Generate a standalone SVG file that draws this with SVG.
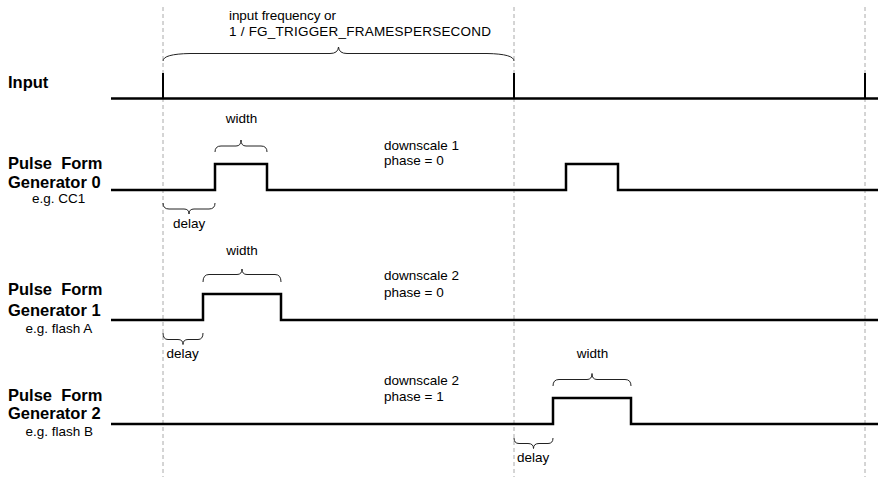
<svg xmlns="http://www.w3.org/2000/svg" width="886" height="489" viewBox="0 0 886 489">
<style>
.bg{fill:#fff}
.guide{stroke:#aaa;stroke-width:1;stroke-dasharray:4 3;fill:none}
.sig{stroke:#000;stroke-width:2.5;fill:none;stroke-linejoin:miter}
.spike{stroke:#000;stroke-width:2;fill:none}
.brace{stroke:#222;stroke-width:1;fill:none}
.lbl{font-family:"Liberation Sans",Arial,sans-serif;font-weight:bold;font-size:16.5px;fill:#000}
.txt{font-family:"Liberation Sans",Arial,sans-serif;font-size:13.5px;fill:#000}
</style>
<rect class="bg" x="0" y="0" width="886" height="489"/>
<g id="connectors">
<line class="guide" x1="163" y1="7" x2="163" y2="477"/>
<line class="guide" x1="514" y1="7" x2="514" y2="477"/>
<line class="guide" x1="865" y1="7" x2="865" y2="477"/>
</g>
<g id="input">
<text class="lbl" x="8" y="88">Input</text>
<line class="sig" x1="111" y1="98.5" x2="878" y2="98.5"/>
<line class="spike" x1="163" y1="73" x2="163" y2="98"/>
<line class="spike" x1="514" y1="73" x2="514" y2="98"/>
<line class="spike" x1="865" y1="73" x2="865" y2="98"/>
<path class="brace" d="M163,61 Q163,54 190,53.5 L330,53.5 Q338,53.5 338.5,47 Q339,53.5 347,53.5 L487,53.5 Q514,54 514,61"/>
<text class="txt" x="229" y="20" textLength="107">input frequency or</text>
<text class="txt" x="229" y="36" textLength="262">1 / FG_TRIGGER_FRAMESPERSECOND</text>
</g>
<g id="pfg0">
<text class="lbl" x="8" y="169" xml:space="preserve">Pulse  Form</text>
<text class="lbl" x="8" y="188">Generator 0</text>
<text class="txt" x="32" y="203">e.g. CC1</text>
<path class="sig" d="M111,190 H215 V164 H267 V190 H566 V164 H618 V190 H878"/>
<path class="brace" d="M215,152 Q215,146 221,146 L236,146 Q241,146 241,140 Q241,146 246,146 L261,146 Q267,146 267,152"/>
<text class="txt" x="241.5" y="123" text-anchor="middle">width</text>
<path class="brace" d="M163,203 Q163,209 169,209 L184,209 Q189,209 189,214 Q189,209 194,209 L209,209 Q215,209 215,203"/>
<text class="txt" x="173" y="228">delay</text>
<text class="txt" x="384" y="150">downscale 1</text>
<text class="txt" x="384" y="165">phase = 0</text>
</g>
<g id="pfg1">
<text class="lbl" x="8" y="295" xml:space="preserve">Pulse  Form</text>
<text class="lbl" x="8" y="316">Generator 1</text>
<text class="txt" x="25.5" y="333">e.g. flash A</text>
<path class="sig" d="M111,320 H203 V294 H281 V320 H878"/>
<path class="brace" d="M203,282 Q203,274.5 209,274.5 L237,274.5 Q242,274.5 242,269 Q242,274.5 247,274.5 L275,274.5 Q281,274.5 281,282"/>
<text class="txt" x="242" y="255" text-anchor="middle">width</text>
<path class="brace" d="M163,333 Q163,339.5 168,339.5 L178,339.5 Q183,339.5 183,344.5 Q183,339.5 188,339.5 L198,339.5 Q203,339.5 203,333"/>
<text class="txt" x="166.5" y="358">delay</text>
<text class="txt" x="384" y="280">downscale 2</text>
<text class="txt" x="384" y="297">phase = 0</text>
</g>
<g id="pfg2">
<text class="lbl" x="8" y="400.5" xml:space="preserve">Pulse  Form</text>
<text class="lbl" x="8" y="419">Generator 2</text>
<text class="txt" x="25.5" y="435.5">e.g. flash B</text>
<path class="sig" d="M111,424 H553 V398 H631 V424 H878"/>
<path class="brace" d="M553,386 Q553,379.5 559,379.5 L587,379.5 Q592,379.5 592,373.5 Q592,379.5 597,379.5 L625,379.5 Q631,379.5 631,386"/>
<text class="txt" x="592.5" y="358" text-anchor="middle">width</text>
<path class="brace" d="M514,438 Q514,443.5 519,443.5 L528,443.5 Q533.5,443.5 533.5,448.5 Q533.5,443.5 539,443.5 L548,443.5 Q553,443.5 553,438"/>
<text class="txt" x="517" y="462">delay</text>
<text class="txt" x="384" y="385">downscale 2</text>
<text class="txt" x="384" y="401">phase = 1</text>
</g>
</svg>
